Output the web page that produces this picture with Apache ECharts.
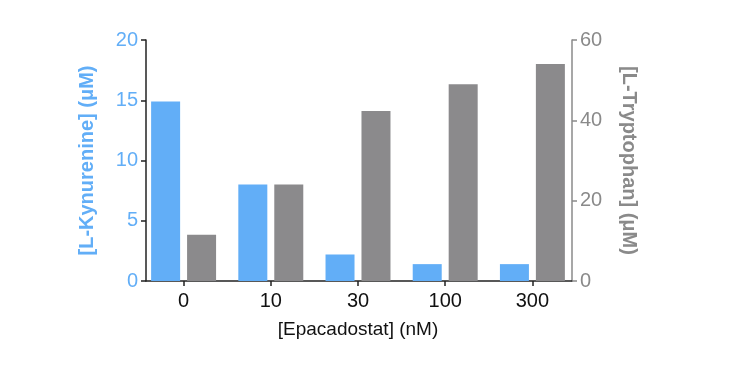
<!DOCTYPE html>
<html><head><meta charset="utf-8">
<script src="https://cdn.jsdelivr.net/npm/echarts@6/dist/echarts.min.js"></script>
<style>html,body{margin:0;padding:0;background:#fff}#c{width:733px;height:371px}</style>
</head><body><div id="c"></div>
<script>
const categories = ['0', '10', '30', '100', '300'];
const kynurenine = [14.9, 8.0, 2.2, 1.4, 1.4];
const tryptophan = [11.5, 24.0, 42.3, 49.0, 54.0];
const leftTicks = [0, 5, 10, 15, 20];
const rightTicks = [0, 20, 40, 60];

const BLUE = '#62aef7';
const GRAY = '#8b8a8c';
const FONT = 'Liberation Sans';
const chart = echarts.init(document.getElementById('c'), null, {renderer: 'canvas'});
chart.setOption({
  animation: false,
  textStyle: {fontFamily: FONT},
  grid: [
    {left: 140, right: 157, top: 40, bottom: 90, containLabel: false},
    {left: 146, right: 161, top: 40, bottom: 90, containLabel: false}
  ],
  xAxis: [{
    type: 'category', data: categories, gridIndex: 0,
    axisLine: {show: false},
    axisTick: {show: true, alignWithLabel: true, length: 5, lineStyle: {color: '#222', width: 1.5}},
    axisLabel: {color: '#111', fontSize: 20, margin: 10, fontFamily: FONT},
    name: '[Epacadostat] (nM)', nameLocation: 'middle', nameGap: 39,
    nameTextStyle: {color: '#111', fontSize: 19, fontFamily: FONT}
  }, {
    type: 'value', gridIndex: 1, min: 0, max: 1,
    axisLine: {show: true, onZero: false, lineStyle: {color: '#222', width: 1.5}},
    axisTick: {show: false}, axisLabel: {show: false}, splitLine: {show: false}
  }],
  yAxis: [{
    type: 'value', gridIndex: 0, min: leftTicks[0], max: leftTicks[leftTicks.length - 1], interval: 5,
    position: 'left', offset: -6,
    axisLine: {show: true, lineStyle: {color: '#222', width: 1.5}},
    axisTick: {show: true, length: 5, lineStyle: {color: '#222', width: 1.5}},
    axisLabel: {color: BLUE, fontSize: 20, margin: 8, fontFamily: FONT},
    splitLine: {show: false},
    name: '[L-Kynurenine] (μM)', nameLocation: 'middle', nameGap: 49, nameRotate: 90,
    nameTextStyle: {color: BLUE, fontSize: 20, fontWeight: 'bold', fontFamily: FONT}
  }, {
    type: 'value', gridIndex: 0, min: rightTicks[0], max: rightTicks[rightTicks.length - 1], interval: 20,
    position: 'right', offset: -4,
    axisLine: {show: true, lineStyle: {color: '#8a8a8a', width: 1.5}},
    axisTick: {show: true, length: 5, lineStyle: {color: '#8a8a8a', width: 1.5}},
    axisLabel: {color: '#8a8a8a', fontSize: 20, margin: 8, fontFamily: FONT},
    splitLine: {show: false},
    name: '[L-Tryptophan] (μM)', nameLocation: 'middle', nameGap: 47, nameRotate: -90,
    nameTextStyle: {color: '#8a8a8a', fontSize: 20, fontWeight: 'bold', fontFamily: FONT}
  }, {
    type: 'value', gridIndex: 1, show: false
  }],
  series: [{
    type: 'bar', name: 'L-Kynurenine', data: kynurenine, xAxisIndex: 0, yAxisIndex: 0,
    barWidth: 29, barGap: '24%', itemStyle: {color: BLUE}
  }, {
    type: 'bar', name: 'L-Tryptophan', data: tryptophan, xAxisIndex: 0, yAxisIndex: 1,
    barWidth: 29, barGap: '24%', itemStyle: {color: GRAY}
  }]
});
</script></body></html>
